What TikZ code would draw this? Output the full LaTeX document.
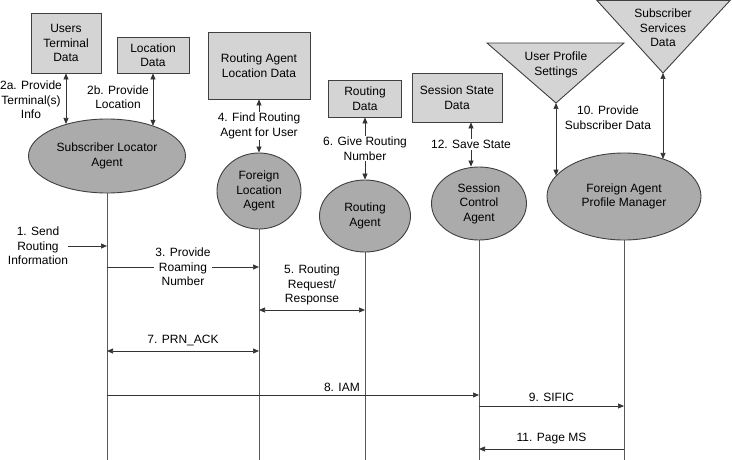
\documentclass[tikz,border=0pt]{standalone}
\usepackage{fontspec}
\setmainfont{Liberation Sans}
\usetikzlibrary{shapes.geometric,arrows.meta}

\begin{document}
\begin{tikzpicture}[x=1pt, y=-1pt,
    every node/.style={font=\fontsize{12}{14.5}\selectfont, align=center},
    databox/.style={draw=black!75, fill=black!17, line width=0.9pt, inner sep=0pt},
    agent/.style={ellipse, draw=black!75, fill=black!33, line width=0.9pt, inner sep=0pt},
    store/.style={draw=black!75, fill=black!17, line width=0.9pt, line join=miter},
    lifeline/.style={draw=black!65, line width=0.8pt},
    msg/.style={draw=black!80, line width=0.7pt, -{Triangle[length=6pt,width=5pt]}},
    dmsg/.style={draw=black!80, line width=0.7pt, {Triangle[length=6pt,width=5pt]}-{Triangle[length=6pt,width=5pt]}},
    tag/.style={fill=white, inner sep=1pt}]
    \useasboundingbox (0,0) rectangle (732,460);
    \coordinate (bottom) at (0,460);

    % --- data stores ---
    \node[databox, minimum width=70pt, minimum height=60pt] (utd) at (66,43) {Users\\Terminal\\Data};
    \node[databox, minimum width=72pt, minimum height=36pt] (locd) at (153,55) {Location\\Data};
    \node[databox, minimum width=102pt, minimum height=67pt] (rald) at (259,65.5) {Routing Agent\\Location Data};
    \node[databox, minimum width=73pt, minimum height=37pt] (rdat) at (365,98.5) {Routing\\Data};
    \node[databox, minimum width=90pt, minimum height=49pt] (ssd) at (457,97.5) {Session State\\Data};

    \draw[store] (487,43) -- (624,43) -- (556,103) -- cycle;
    \coordinate (upsapex) at (556,103);
    \node (ups) at (556,65) {User Profile\\Settings};
    \draw[store] (597,0.5) -- (730,0.5) -- (663,73) -- cycle;
    \coordinate (ssvapex) at (663,73);
    \node (ssv) at (663,28) {Subscriber\\Services\\Data};

    % --- lifelines ---
    \coordinate (sla0) at (107,156);
    \coordinate (fla0) at (259,191);
    \coordinate (ra0) at (365,216);
    \coordinate (sca0) at (479,203.5);
    \coordinate (fapm0) at (624,196.5);
    \foreach \n in {sla0,fla0,ra0,sca0,fapm0}
        \draw[lifeline] (\n) -- (\n |- bottom);

    % --- agents ---
    \node[agent, minimum width=157pt, minimum height=74pt] (sla) at (sla0) {Subscriber Locator\\Agent};
    \node[agent, minimum width=84pt, minimum height=76pt] (fla) at (fla0) {Foreign\\Location\\Agent};
    \node[agent, minimum width=91pt, minimum height=72pt] (ra) at (ra0) {Routing\\Agent};
    \node[agent, minimum width=95pt, minimum height=73pt] (sca) at (sca0) {Session\\Control\\Agent};
    \node[agent, minimum width=154pt, minimum height=87pt] (fapm) at (fapm0) {Foreign Agent\\Profile Manager};

    % --- store access ---
    \draw[dmsg] (utd.south) -- (sla.142.5 -| utd.south);
    \node (l2a) at (31,100) {2a. Provide\\Terminal(s)\\Info};
    \draw[dmsg] (locd.south) -- (sla.33 -| locd.south);
    \node (l2b) at (118,97) {2b. Provide\\Location};
    \draw[dmsg] (rald.south) -- (fla.north) node[midway, tag] {4. Find Routing\\Agent for User};
    \draw[dmsg] (rdat.south) -- (ra.north) node[midway, tag] {6. Give Routing\\Number};
    \draw[dmsg] ([xshift=14pt]ssd.south) -- ([xshift=-8pt]sca.north) node[midway, tag] {12. Save State};
    \draw[dmsg] (upsapex) -- (fapm.163.3 -| upsapex);
    \draw[dmsg] (ssvapex) -- (fapm.43.9 -| ssvapex);
    \node (l10) at (608,117.5) {10. Provide\\Subscriber Data};

    % --- messages ---
    \coordinate (m3) at (0,267);
    \coordinate (m5) at (0,310);
    \coordinate (m7) at (0,351);
    \coordinate (m8) at (0,395);
    \coordinate (m9) at (0,406);
    \coordinate (m11) at (0,449);

    \node[inner sep=0pt] (l1) at (38,246) {1. Send\\Routing\\Information};
    \draw[msg] (l1.east) -- (sla.south |- l1.east);
    \draw[msg] (sla.south |- m3) -- (fla.south |- m3) node[midway, tag] {3. Provide\\Roaming\\Number};
    \draw[dmsg] (fla.south |- m5) -- (ra.south |- m5) node[midway, above=1pt] {5. Routing\\Request/\\Response};
    \draw[dmsg] (sla.south |- m7) -- (fla.south |- m7) node[midway, above=1pt] {7. PRN\_ACK};
    \draw[msg] (sla.south |- m8) -- (sca.south |- m8);
    \node[anchor=south east, inner sep=1pt] (l8) at ([xshift=-4pt, yshift=2pt]ra.south |- m8) {8. IAM};
    \draw[msg] (sca.south |- m9) -- (fapm.south |- m9) node[midway, above=1pt] {9. SIFIC};
    \draw[msg] (fapm.south |- m11) -- (sca.south |- m11) node[midway, above=1pt] {11. Page MS};
\end{tikzpicture}
\end{document}
